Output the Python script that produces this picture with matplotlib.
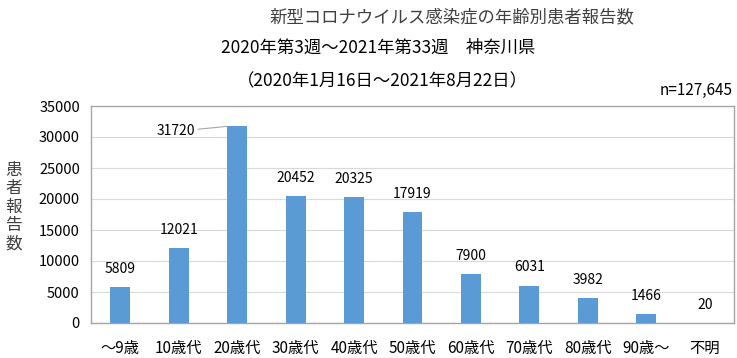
import matplotlib
matplotlib.use("Agg")
import matplotlib.pyplot as plt

plt.rcParams['font.family'] = ['Noto Sans CJK JP', 'DejaVu Sans']

categories = ["～9歳", "10歳代", "20歳代", "30歳代", "40歳代", "50歳代",
              "60歳代", "70歳代", "80歳代", "90歳～", "不明"]
values = [5809, 12021, 31720, 20452, 20325, 17919, 7900, 6031, 3982, 1466, 20]
yticks = [0, 5000, 10000, 15000, 20000, 25000, 30000, 35000]
title_lines = ["新型コロナウイルス感染症の年齢別患者報告数",
               "2020年第3週～2021年第33週　神奈川県",
               "（2020年1月16日～2021年8月22日）"]
n_text = "n=127,645"
ylabel = "患者報告数"

W, H = 737, 358
fig = plt.figure(figsize=(W / 100, H / 100), dpi=100)
left, right, top, bottom = 91, 734, 106, 323
ax = fig.add_axes([left / W, 1 - bottom / H, (right - left) / W, (bottom - top) / H])

x = list(range(len(categories)))
bar_color = "#5B9BD5"
ax.bar(x, values, width=0.34, color=bar_color, zorder=3)
ax.set_xlim(-0.5, len(categories) - 0.5)
ax.set_ylim(0, 35000)
ax.set_yticks(yticks)
ax.set_yticklabels([str(t) for t in yticks], fontsize=10.5)
ax.set_xticks(x)
ax.set_xticklabels(categories, fontsize=11)
ax.tick_params(axis='x', length=0, pad=12)
ax.tick_params(axis='y', length=0, pad=8)
ax.grid(axis='y', color='#D9D9D9', linewidth=0.8, zorder=0)
for s in ax.spines.values():
    s.set_color('#A6A6A6')
    s.set_linewidth(1.0)

for i, v in enumerate(values):
    if i == 2:
        ax.annotate(str(v), xy=(i - 0.17, v), xytext=(i - 1.05, 30900),
                    fontsize=10, ha='center', va='center',
                    arrowprops=dict(arrowstyle='-', color='#A6A6A6', lw=0.8,
                                    shrinkA=22, shrinkB=0))
    else:
        ax.annotate(str(v), xy=(i, v), xytext=(0, 8), textcoords='offset points',
                    fontsize=10, ha='center', va='bottom')

fig.text(452 / W, 1 - 17 / H, title_lines[0], fontsize=12.5, ha='center', va='center', color='#404040')
fig.text(378 / W, 1 - 48 / H, title_lines[1], fontsize=12.5, ha='center', va='center')
fig.text(382 / W, 1 - 81 / H, title_lines[2], fontsize=12.5, ha='center', va='center')
fig.text(733 / W, 1 - 90 / H, n_text, fontsize=11, ha='right', va='center')

for k, ch in enumerate(ylabel):
    fig.text(14 / W, 1 - (170 + k * 18.5) / H, ch, fontsize=12, ha='center', va='center', color='#404040')

fig.savefig("out.png", dpi=100)
